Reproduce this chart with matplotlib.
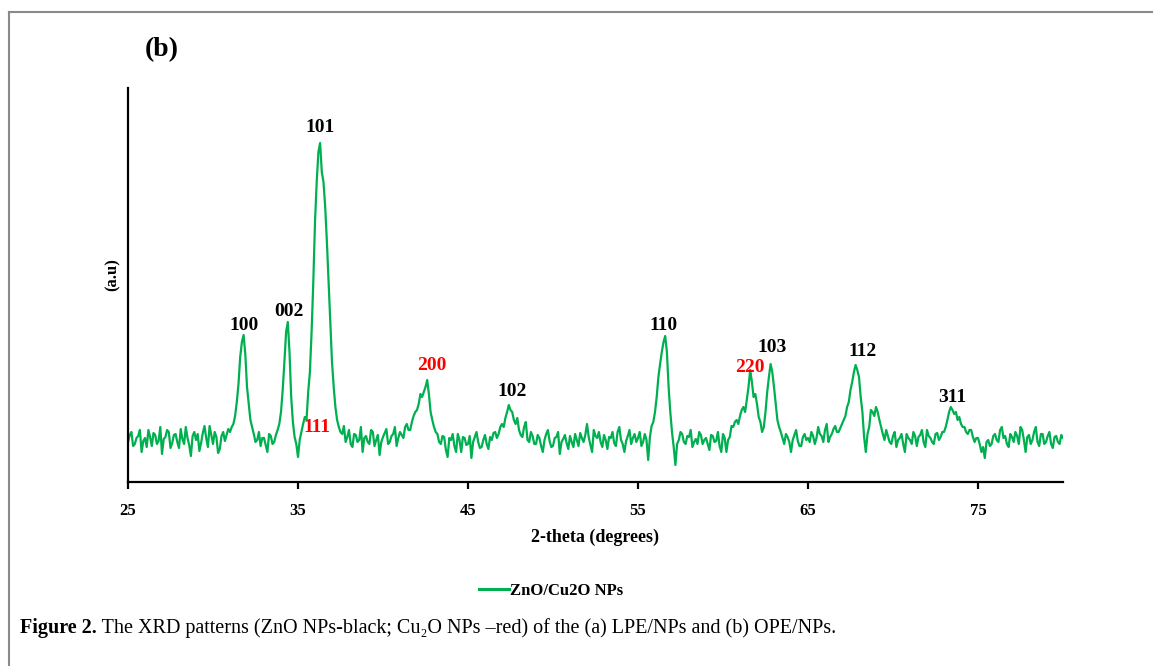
import numpy as np
import matplotlib
matplotlib.use("Agg")
import matplotlib.pyplot as plt
from matplotlib.lines import Line2D

# ---------------- data ----------------
theta_start = 25.0
theta_step = 0.1
intensity = [
    40, 47, 50, 36, 38, 44, 46, 52, 30, 41, 44, 35, 52, 45, 36, 49, 47, 38, 41, 55,          # 25.0-26.9
    28, 43, 45, 52, 50, 34, 39, 47, 48, 40, 34, 53, 43, 38, 55, 44, 37, 26, 46, 50,          # 27.0-28.9
    42, 48, 31, 39, 49, 56, 44, 35, 56, 47, 38, 50, 45, 29, 33, 46, 50, 41, 47, 53,          # 29.0-30.9
    50, 55, 58, 66, 80, 98, 125, 140, 147, 128, 95, 78, 62, 55, 48, 40, 42, 50, 36, 44,      # 31.0-32.9
    44, 37, 30, 48, 46, 38, 40, 47, 52, 58, 70, 92, 120, 150, 160, 130, 85, 60, 45, 38,      # 33.0-34.9
    25, 42, 50, 58, 65, 62, 90, 110, 150, 200, 260, 300, 330, 339, 310, 300, 275, 240, 200, 160,  # 35.0-36.9
    120, 95, 75, 62, 55, 50, 48, 56, 40, 45, 52, 38, 35, 48, 47, 40, 42, 55, 30, 44,         # 37.0-38.9
    46, 40, 38, 52, 50, 36, 42, 47, 27, 40, 45, 49, 53, 38, 40, 46, 48, 55, 36, 44,          # 39.0-40.9
    50, 47, 44, 55, 58, 52, 52, 60, 66, 70, 72, 78, 88, 85, 90, 95, 102, 88, 70, 62,         # 41.0-42.9
    55, 50, 48, 40, 38, 46, 45, 32, 25, 44, 42, 48, 36, 30, 48, 42, 30, 45, 44, 37,          # 43.0-44.9
    38, 46, 24, 40, 45, 50, 40, 34, 35, 42, 47, 38, 33, 45, 42, 49, 50, 44, 48, 55,          # 45.0-46.9
    58, 55, 64, 70, 77, 72, 70, 62, 58, 64, 52, 47, 45, 55, 60, 42, 40, 50, 46, 38,          # 47.0-48.9
    38, 47, 44, 36, 30, 42, 48, 52, 41, 35, 36, 44, 45, 50, 28, 40, 43, 47, 39, 33,          # 49.0-50.9
    46, 40, 35, 48, 42, 36, 49, 44, 40, 47, 58, 45, 37, 30, 52, 46, 44, 50, 40, 35,          # 51.0-52.9
    47, 42, 33, 45, 44, 50, 39, 36, 50, 55, 42, 38, 30, 41, 46, 52, 38, 44, 48, 40,          # 53.0-54.9
    44, 50, 36, 40, 48, 42, 22, 45, 56, 60, 70, 85, 105, 118, 130, 140, 146, 130, 95, 70,    # 55.0-56.9
    50, 35, 17, 38, 42, 50, 48, 40, 38, 46, 45, 52, 35, 40, 43, 38, 50, 47, 38, 42,          # 57.0-58.9
    44, 38, 32, 47, 46, 40, 41, 50, 36, 30, 48, 44, 30, 42, 45, 56, 55, 60, 62, 58,          # 59.0-60.9
    66, 72, 75, 70, 82, 95, 112, 100, 85, 88, 78, 65, 60, 50, 55, 70, 90, 105, 118, 110,     # 61.0-62.9
    95, 78, 62, 55, 50, 44, 38, 48, 45, 40, 30, 42, 47, 52, 41, 36, 36, 45, 48, 42,          # 63.0-64.9
    44, 40, 50, 46, 38, 44, 55, 48, 46, 40, 52, 58, 40, 45, 48, 53, 56, 50, 50, 54,          # 65.0-66.9
    58, 62, 66, 75, 80, 92, 100, 110, 117, 112, 105, 85, 70, 45, 30, 48, 55, 72, 70, 66,     # 67.0-68.9
    75, 70, 62, 55, 48, 42, 52, 46, 40, 38, 46, 50, 35, 42, 44, 48, 38, 30, 48, 44,          # 69.0-70.9
    42, 38, 50, 46, 36, 45, 47, 52, 40, 35, 52, 46, 44, 40, 38, 48, 49, 42, 45, 50,          # 71.0-72.9
    50, 55, 62, 70, 75, 72, 68, 70, 62, 65, 58, 55, 55, 50, 48, 52, 52, 45, 40, 44,          # 73.0-74.9
    44, 38, 30, 35, 24, 40, 42, 36, 38, 46, 48, 42, 40, 52, 55, 44, 46, 38, 35, 48,          # 75.0-76.9
    45, 40, 50, 46, 38, 55, 52, 42, 30, 45, 47, 38, 42, 50, 55, 40, 36, 48, 48, 38,          # 77.0-78.9
    40, 46, 50, 38, 34, 45, 46, 40, 38, 47, 44,                                              # 79.0-80.0
]
two_theta = theta_start + theta_step * np.arange(len(intensity))

zno_labels = ["100", "002", "101", "102", "110", "103", "112", "311"]
zno_x = [31.8, 34.45, 36.3, 47.6, 56.5, 62.9, 68.2, 73.5]
zno_y = [157, 170, 354, 90, 157, 135, 130, 85]

cu2o_labels = ["111", "200", "220"]
cu2o_x = [36.1, 42.85, 61.6]
cu2o_y = [54, 117, 115]

xtick_values = [25, 35, 45, 55, 65, 75]
series_name = "ZnO/Cu2O NPs"

# ---------------- figure ----------------
W, H = 1153, 666
fig = plt.figure(figsize=(W / 100, H / 100), dpi=100)
fig.patch.set_facecolor("white")

serif = ["Liberation Serif", "DejaVu Serif"]
green = "#00B050"

ax = fig.add_axes([128 / W, 1 - 482 / H, (1063 - 128) / W, (482 - 88) / H])
ax.plot(two_theta, intensity, color=green, lw=1.6, zorder=2)
ax.set_xlim(25, 80)
ax.set_ylim(0, 394)

for s in ["top", "right"]:
    ax.spines[s].set_visible(False)
for s in ["left", "bottom"]:
    ax.spines[s].set_linewidth(1.6)
    ax.spines[s].set_color("black")

ax.set_yticks([])
ax.set_xticks(xtick_values)
ax.set_xticklabels([str(v) for v in xtick_values])
ax.tick_params(axis="x", direction="out", length=5, width=1.6, pad=10)
for lbl in ax.get_xticklabels():
    lbl.set_fontfamily(serif)
    lbl.set_fontweight("bold")
    lbl.set_fontsize(12)

for t, x, y in zip(zno_labels, zno_x, zno_y):
    ax.text(x, y, t, ha="center", va="center", fontsize=14, fontweight="bold",
            family=serif, color="black", zorder=3)
for t, x, y in zip(cu2o_labels, cu2o_x, cu2o_y):
    ax.text(x, y, t, ha="center", va="center", fontsize=14, fontweight="bold",
            family=serif, color="#FF0000", zorder=3)

# axis labels and panel tag
fig.text(162 / W, 1 - 50 / H, "(b)", ha="center", va="center", fontsize=20,
         fontweight="bold", family=serif)
fig.text(113 / W, 1 - 275 / H, "(a.u)", ha="center", va="center", rotation=90,
         fontsize=12, fontweight="bold", family=serif)
fig.text(595 / W, 1 - 537 / H, "2-theta (degrees)", ha="center", va="center",
         fontsize=13, fontweight="bold", family=serif)

# legend
leg = ax.legend([Line2D([0], [0], color=green, lw=2.2)], [series_name],
                loc="center", bbox_to_anchor=(551 / W, 1 - 591 / H),
                bbox_transform=fig.transFigure, frameon=False,
                handlelength=1.8, handletextpad=0.1,
                prop={"family": serif, "weight": "bold", "size": 12})

# caption
cap1 = fig.text(20 / W, 1 - 628 / H, "Figure 2.", ha="left", va="center",
                fontsize=14.5, fontweight="bold", family=serif)
fig.canvas.draw()
ax.annotate(" The XRD patterns (ZnO NPs-black; Cu\u2082O NPs \u2013red) of the (a) LPE/NPs and (b) OPE/NPs.",
            xy=(1, 0), xycoords=cap1, ha="left", va="bottom", fontsize=14.5,
            family=serif, annotation_clip=False)

# outer frame (left and top edges)
fig.add_artist(Line2D([9 / W, 9 / W], [0, 1 - 12 / H], transform=fig.transFigure,
                      color="#8a8a8a", lw=1.5))
fig.add_artist(Line2D([9 / W, 1], [1 - 12 / H, 1 - 12 / H], transform=fig.transFigure,
                      color="#8a8a8a", lw=1.5))

fig.savefig("out.png", dpi=100, facecolor="white")
